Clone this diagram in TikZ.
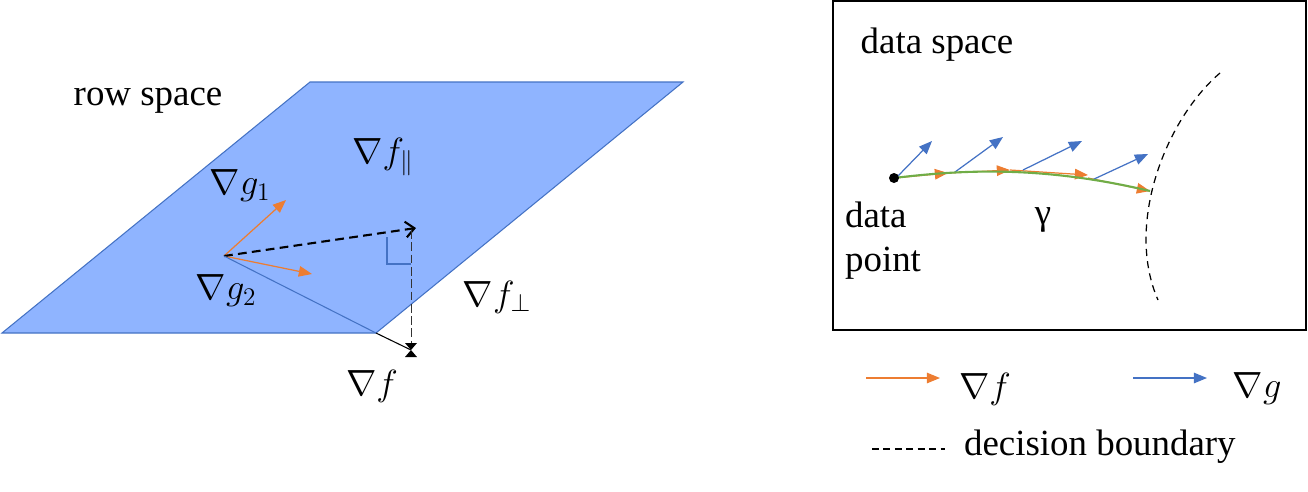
\documentclass[tikz,border=0pt]{standalone}
\usepackage{fontspec}
\setmainfont{Liberation Serif}
\usetikzlibrary{arrows.meta}
\definecolor{planefill}{RGB}{143,180,255}
\definecolor{planeedge}{RGB}{68,114,196}
\definecolor{gradorange}{RGB}{237,125,49}
\definecolor{pathgreen}{RGB}{112,173,71}
\begin{document}
\begin{tikzpicture}[x=0.02cm,y=-0.02cm,
  font=\fontsize{21}{25}\selectfont,
  orangevec/.style={gradorange,line width=0.7pt,-{Triangle[length=7.5pt,width=6pt]}},
  bluevec/.style={planeedge,line width=0.7pt,-{Triangle[length=7.5pt,width=6pt]}},
  lbl/.style={inner sep=1pt}]
\useasboundingbox (0,0) rectangle (1308,491);
% the row space plane
\coordinate (pa) at (310,82);
\coordinate (pb) at (683,82);
\coordinate (pc) at (376,333);
\coordinate (pd) at (2,333);
\fill[planefill] (pa) -- (pb) -- (pc) -- (pd) -- cycle;
\draw[planeedge,line width=0.6pt] (pa) -- (pb) -- (pc) -- (pd) -- cycle;
\node[lbl] (rowlbl) at (148,101) {row space};
% the gradients of the constraints
\coordinate (o) at (224,256);
\coordinate (g1) at (286,200);
\coordinate (g2) at (312,274);
\draw[orangevec] (o) -- (g1);
\draw[orangevec] (o) -- (g2);
\node[lbl] (g1lbl) at (240,186) {$\nabla g_1$};
\node[lbl] (g2lbl) at (226,291) {$\nabla g_2$};
% projection of the gradient
\coordinate (fpar) at (416,228);
\coordinate (f) at (411,350);
\draw[black,line width=1.2pt,dash pattern=on 5pt off 3pt,-{Straight Barb[length=5pt,width=9pt]}] (o) -- (fpar);
\draw[black!80,line width=0.5pt,dash pattern=on 5pt off 2pt] (411,230) -- (f);
\draw[planeedge,line width=0.6pt] (387,237) -- (387,264) -- (411,264);
\draw[planeedge,line width=0.6pt] (o) -- (pc);
\draw[black,line width=0.6pt] (pc) -- (f);
\fill[black] (405,343) -- (417,343) -- (f) -- (417,357) -- (405,357) -- (f) -- cycle;
\node[lbl] (fparlbl) at (383,157) {$\nabla f_{\parallel}$};
\node[lbl] (fperplbl) at (497,297) {$\nabla f_{\perp}$};
\node[lbl] (flbl) at (372,386) {$\nabla f$};
% the data space
\draw[black,line width=1pt] (833,1) rectangle (1306,330);
\node[lbl] (datalbl) at (937,45) {data space};
\coordinate (dp) at (894,178);
\coordinate (c1) at (948,173);
\coordinate (c2) at (1010,170);
\coordinate (c3) at (1088,175);
\coordinate (c4) at (1150,191);
\draw[orangevec] (dp) -- (c1);
\draw[orangevec] (c1) -- (c2);
\draw[orangevec] (c2) -- (c3);
\draw[orangevec] (1088,178) -- (c4);
\draw[bluevec] (897,177) -- (932,141);
\draw[bluevec] (955,172) -- (1003,137);
\draw[bluevec] (1023,170) -- (1082,141);
\draw[bluevec] (1092,180) -- (1148,154);
\draw[pathgreen,line width=1.2pt] (dp) .. controls (960,170) and (1040,165) .. (c4);
\fill[black] (dp) circle (5);
\node[lbl,align=left,anchor=north west] (dplbl) at (843,200) {data\\point};
\node[lbl] (gammalbl) at (1043,220) {γ};
% decision boundary
\draw[black,line width=0.7pt,dash pattern=on 4pt off 3pt] (1220,73) .. controls (1165,120) and (1125,225) .. (1158,300);
% legend
\coordinate (la) at (866,378);
\coordinate (lb) at (940,378);
\coordinate (lc) at (1133,378);
\coordinate (ld) at (1207,378);
\coordinate (le) at (872,449);
\coordinate (lf) at (945,449);
\draw[orangevec] (la) -- (lb);
\draw[bluevec] (lc) -- (ld);
\draw[black,line width=0.7pt,dash pattern=on 4pt off 2.5pt] (le) -- (lf);
\node[lbl] (leglf) at (985,389) {$\nabla f$};
\node[lbl] (leglg) at (1257,389) {$\nabla g$};
\node[lbl,anchor=west] (legld) at (962,447) {decision boundary};
\end{tikzpicture}
\end{document}
